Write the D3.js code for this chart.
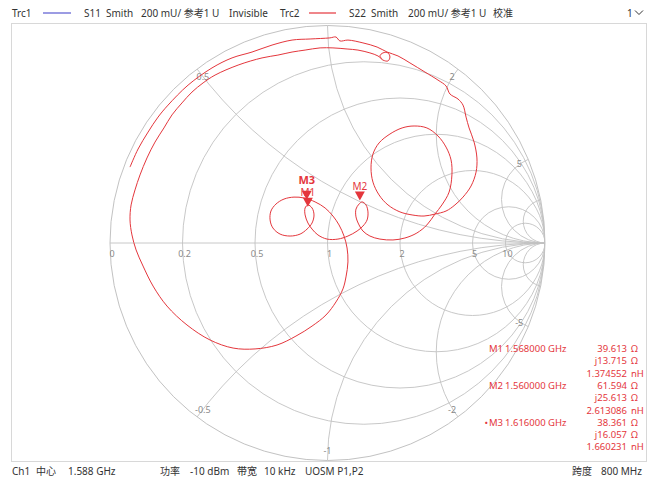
<!DOCTYPE html>
<html><head><meta charset="utf-8">
<script src="https://cdn.jsdelivr.net/npm/d3@7"></script>
<style>
body{margin:0;background:#fff;}
svg{display:block;font-family:'Noto Sans','Noto Sans CJK SC',sans-serif;}
</style>
</head><body>
<svg id="c" width="652" height="479"></svg>
<script>
// ---------------- data ----------------
const resistanceGrid = [0.2, 0.5, 1, 2, 5, 10];
const reactanceGrid = [0.5, 1, 2, 5, 10];
const resistanceTickValues = [0, 0.2, 0.5, 1, 2, 5, 10];
const resistanceTickLabels = ["0", "0.2", "0.5", "1", "2", "5", "10"];
const reactanceTickValues = [0.5, 2, 5, -0.5, -1, -2, -5];
const reactanceTickLabels = ["0.5", "2", "5", "-0.5", "-1", "-2", "-5"];

const s22Re = [-0.908,-0.871,-0.825,-0.779,-0.733,-0.641,-0.531,-0.439,-0.347,-0.255,-0.163,-0.080,0.011,0.039,0.057,0.094,0.163,0.228,0.274,
  0.324,0.379,0.448,0.508,0.545,0.563,0.600,0.623,0.637,0.651,0.674,0.687,0.683,0.660,0.623,0.586,0.545,0.494,
  0.444,0.389,0.333,0.278,0.237,0.209,0.200,0.209,0.237,0.287,0.343,0.398,0.457,0.508,0.545,0.568,0.572,0.559,0.526,0.494,
  0.457,0.411,0.356,0.301,0.241,0.195,0.163,0.145,0.131,0.131,0.145,0.159,0.177,0.186,0.182,0.163,0.136,0.094,0.048,-0.002,
  -0.044,-0.071,-0.090,-0.103,-0.103,-0.090,-0.071,-0.062,-0.071,-0.094,-0.126,-0.172,-0.218,-0.251,-0.264,-0.260,-0.237,-0.200,
  -0.154,-0.108,-0.057,-0.011,0.025,0.053,0.076,0.090,0.094,0.085,0.071,0.039,-0.007,-0.071,-0.145,-0.232,-0.333,-0.434,-0.540,
  -0.646,-0.738,-0.802,-0.848,-0.880,-0.899,-0.908,-0.903,-0.885,-0.862,-0.830,-0.793,-0.752,-0.715,-0.669,-0.623,-0.572,-0.517,
  -0.411,-0.301,-0.228,-0.163,-0.103,-0.034,0.025,0.090,0.140,0.195,0.232,0.255,0.278,0.287,0.278,0.255,0.241,0.251];
const s22Im = [0.349,0.432,0.510,0.579,0.634,0.726,0.805,0.851,0.878,0.910,0.933,0.938,0.943,0.947,0.929,0.933,0.920,0.901,0.878,
  0.860,0.828,0.786,0.749,0.722,0.685,0.662,0.634,0.579,0.529,0.464,0.391,0.326,0.262,0.211,0.175,0.147,0.133,
  0.124,0.129,0.143,0.175,0.221,0.280,0.345,0.409,0.460,0.501,0.529,0.538,0.529,0.492,0.441,0.382,0.313,0.234,0.175,0.133,
  0.083,0.046,0.023,0.014,0.018,0.032,0.055,0.083,0.120,0.156,0.179,0.189,0.175,0.143,0.106,0.078,0.055,0.032,0.018,0.018,
  0.037,0.064,0.092,0.129,0.161,0.175,0.161,0.129,0.092,0.064,0.041,0.032,0.041,0.069,0.106,0.147,0.179,0.202,
  0.211,0.207,0.189,0.161,0.124,0.083,0.032,-0.023,-0.087,-0.156,-0.211,-0.271,-0.331,-0.382,-0.428,-0.469,-0.487,-0.483,-0.446,
  -0.377,-0.290,-0.198,-0.106,-0.032,0.037,0.106,0.175,0.244,0.313,0.391,0.464,0.529,0.589,0.644,0.694,0.736,0.772,
  0.818,0.851,0.864,0.878,0.887,0.897,0.897,0.892,0.887,0.874,0.860,0.841,0.837,0.855,0.874,0.874,0.860,0.846];

const markerNames = ["M1", "M2", "M3"];
const markerFreqs = ["1.568000 GHz", "1.560000 GHz", "1.616000 GHz"];
const markerR = [39.613, 61.594, 38.361];   // ohm
const markerX = [13.715, 25.613, 16.057];   // ohm
const markerL = [1.374552, 2.613086, 1.660231]; // nH
const activeMarker = "M3";
const Z0 = 50;

const headerItems = ["Trc1", "S11", "Smith", "200 mU/ 参考1 U", "Invisible", "Trc2", "S22", "Smith", "200 mU/ 参考1 U", "校准"];
const footerItems = ["Ch1", "中心", "1.588 GHz", "功率", "-10 dBm", "带宽", "10 kHz", "UOSM P1,P2", "跨度", "800 MHz"];

// ---------------- drawing ----------------
const svg = d3.select("#c");
const red = "#e4363c";
const gridCol = "#c2c2c2";
const cx = 327.5, cy = 243, R = 217.5;
const gx = d3.scaleLinear().domain([-1, 1]).range([cx - R, cx + R]);
const gy = d3.scaleLinear().domain([-1, 1]).range([cy + R, cy - R]);
const px = v => gx(v) - gx(0);

// frame
svg.append("rect").attr("x", 11.5).attr("y", 23.5).attr("width", 635).attr("height", 438)
  .attr("fill", "none").attr("stroke", "#d8d8d8");

// header
const hx = [12, 84, 106, 141, 229, 280, 349, 371, 408, 493];
const hg = svg.append("g").attr("font-size", 10).attr("fill", "#333");
headerItems.forEach((t, i) => hg.append("text").attr("x", hx[i]).attr("y", 16.5).text(t));
svg.append("line").attr("x1", 43).attr("x2", 71).attr("y1", 13).attr("y2", 13).attr("stroke", "#5a5ad0").attr("stroke-width", 1.2);
svg.append("line").attr("x1", 309).attr("x2", 336).attr("y1", 13).attr("y2", 13).attr("stroke", red).attr("stroke-width", 1.2);
hg.append("text").attr("x", 627).attr("y", 16.5).text("1");
svg.append("path").attr("d", "M635,10.5 L639,14.5 L643,10.5").attr("fill", "none").attr("stroke", "#333").attr("stroke-width", 1);

// footer
const fx = [12, 36, 68, 160, 190, 237, 264, 305, 572, 601];
const fg = svg.append("g").attr("font-size", 10).attr("fill", "#333");
footerItems.forEach((t, i) => fg.append("text").attr("x", fx[i]).attr("y", 475).text(t));

// grid
svg.append("clipPath").attr("id", "uc").append("circle").attr("cx", cx).attr("cy", cy).attr("r", R);
const grid = svg.append("g").attr("clip-path", "url(#uc)").attr("fill", "none").attr("stroke", gridCol).attr("stroke-width", 0.9);
resistanceGrid.forEach(r => {
  grid.append("circle").attr("cx", gx(r / (1 + r))).attr("cy", gy(0)).attr("r", px(1 / (1 + r)));
});
reactanceGrid.forEach(x => {
  [x, -x].forEach(v => grid.append("circle").attr("cx", gx(1)).attr("cy", gy(1 / v)).attr("r", px(1 / x)));
});
grid.append("line").attr("x1", gx(-1)).attr("x2", gx(1)).attr("y1", gy(0)).attr("y2", gy(0));
svg.append("circle").attr("cx", cx).attr("cy", cy).attr("r", R).attr("fill", "none").attr("stroke", gridCol).attr("stroke-width", 1);

// grid labels
const lg = svg.append("g").attr("font-size", 9).attr("fill", "#8a8a8a").attr("text-anchor", "middle");
resistanceTickValues.forEach((r, i) => {
  lg.append("text").attr("x", gx((r - 1) / (r + 1)) + 2).attr("y", gy(0) + 14).text(resistanceTickLabels[i]);
});
reactanceTickValues.forEach((x, i) => {
  const gr = (x * x - 1) / (x * x + 1), gi = 2 * x / (x * x + 1);
  lg.append("text").attr("x", gx(gr * 0.955)).attr("y", gy(gi * 0.955) + 3.5).text(reactanceTickLabels[i]);
});

// trace
const line = d3.line().x(i => gx(s22Re[i])).y(i => gy(s22Im[i])).curve(d3.curveCatmullRom.alpha(0.5));
svg.append("path").attr("d", line(d3.range(s22Re.length))).attr("fill", "none")
  .attr("stroke", red).attr("stroke-width", 1).attr("stroke-linejoin", "round");

// markers
function gammaOf(r, x) {
  const zr = r / Z0, zi = x / Z0;
  const nr = zr - 1, ni = zi, dr = zr + 1, di = zi;
  const d = dr * dr + di * di;
  return [(nr * dr + ni * di) / d, (ni * dr - nr * di) / d];
}
[0, 1, 2].forEach(i => {
  const [gr, gi] = gammaOf(markerR[i], markerX[i]);
  const x = gx(gr), y = gy(gi);
  const act = markerNames[i] === activeMarker;
  svg.append("text").attr("x", x).attr("y", y - (act ? 16 : 11)).attr("text-anchor", "middle")
    .attr("font-size", act ? 11 : 10).attr("font-weight", act ? 700 : 400).attr("fill", red).text(markerNames[i]);
  svg.append("path").attr("d", `M${x - 5},${y - 9} L${x + 5},${y - 9} L${x},${y} Z`).attr("fill", red);
});

// marker table
const tg = svg.append("g").attr("font-size", 9.5).attr("fill", red);
const row0 = 352, dy = 12.3;
markerNames.forEach((m, i) => {
  const y0 = row0 + i * 3 * dy;
  if (m === activeMarker) tg.append("text").attr("x", 488).attr("y", y0).attr("text-anchor", "end").text("•");
  tg.append("text").attr("x", 489).attr("y", y0).text(m);
  tg.append("text").attr("x", 505).attr("y", y0).text(markerFreqs[i]);
  const vals = [[markerR[i].toFixed(3), "Ω"], ["j" + markerX[i].toFixed(3), "Ω"], [markerL[i].toFixed(6), "nH"]];
  vals.forEach((v, k) => {
    tg.append("text").attr("x", 627).attr("y", y0 + k * dy).attr("text-anchor", "end").text(v[0]);
    tg.append("text").attr("x", 631).attr("y", y0 + k * dy).text(v[1]);
  });
});
</script>
</body></html>
